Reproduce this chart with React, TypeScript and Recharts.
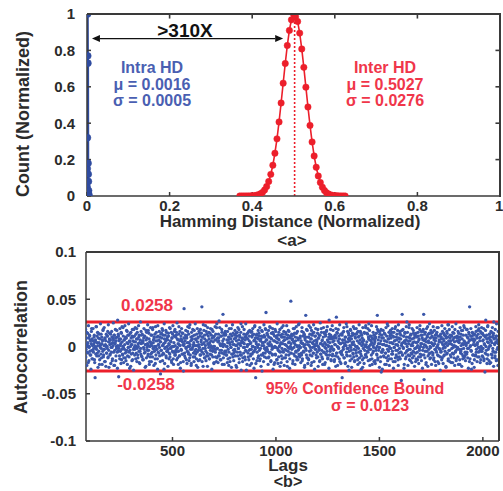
import { ComposedChart, Line, Scatter, XAxis, YAxis, ReferenceLine } from 'recharts';

// Hamming distance histograms (normalized counts)
const intraX = [0, 0.0004, 0.0008, 0.0012, 0.0016, 0.002, 0.0024, 0.0028, 0.0032, 0.0036, 0.004, 0.0044, 0.0048];
const intraY = [0, 0.05, 0.15, 0.32, 1, 0.77, 0.73, 0.18, 0.12, 0.08, 0.03, 0.01, 0];

const interX = [
  0.37, 0.375, 0.38, 0.385, 0.39, 0.395, 0.4, 0.405, 0.41, 0.415, 0.42, 0.425, 0.43, 0.435, 0.44, 0.445,
  0.45, 0.455, 0.46, 0.465, 0.47, 0.475, 0.48, 0.485, 0.49, 0.495, 0.5, 0.505, 0.51, 0.515, 0.52, 0.525,
  0.53, 0.535, 0.54, 0.545, 0.55, 0.555, 0.56, 0.565, 0.57, 0.575, 0.58, 0.585, 0.59, 0.595, 0.6, 0.605,
  0.61, 0.615, 0.62, 0.625,
];
const interY = [
  0, 0, 0, 0.0001, 0.0003, 0.0005, 0.001, 0.002, 0.004, 0.007, 0.012, 0.02, 0.033, 0.052, 0.08, 0.119,
  0.169, 0.235, 0.314, 0.407, 0.511, 0.62, 0.728, 0.827, 0.91, 0.968, 1, 0.985, 0.959, 0.895, 0.808, 0.707,
  0.598, 0.489, 0.388, 0.297, 0.22, 0.158, 0.11, 0.074, 0.048, 0.03, 0.018, 0.011, 0.006, 0.003, 0.002, 0.001,
  0.0005, 0, 0, 0,
];

const hdTicks = [0, 0.2, 0.4, 0.6, 0.8, 1];
const interMean = 0.5027;

// autocorrelation in units of 0.001; even lags from 76, odd lags from 77
const lagStart = 76;
const evenLagMilli = [
  5, -12, 18, -3, 9, -20, 2, 14, -7, 22, -15, 0, 11, -9, 6, -24, 16, -4, 8, -13,
  19, -6, 3, 12, -17, -33, 7, -1, 21, -10, 4, 15, -22, 9, -5, 13, -14, 1, 24, -8,
  -2, 10, -19, 6, 17, -11, -3, 20, -16, 8, 2, -21, 13, -7, 0, 11, -12, 23, -4, 5,
  14, -9, 7, -18, 3, 16, -1, -13, 9, 25, -6, 12, -20, 4, 18, -15, 6, -2, 10, -23,
  1, 13, -32, 8, -10, 19, -5, 3, 15, -14, 21, -8, 0, 11, -17, 7, -3, 22, -12, 9,
  -6, 17, 4, -19, 12, -1, 24, -11, 6, -4, 14, -21, 9, 2, -15, 18, -7, 10, -25, 5,
  11, -3, 20, -13, 0, 8, -16, 15, -9, 3, 22, -5, 12, -18, 7, -2, 16, -10, 4, 13,
  -14, 6, -1, 19, -7, 11, -22, 2, 17, -12, 9, -4, 23, -8, 1, 14, -19, 5, -11, 20,
  3, -16, 12, -6, 18, -2, 7, -20, 10, 0, -13, 21, -9, 15, -3, 6, -24, 11, 2, -7,
  16, -10, 5, -29, 13, -4, 9, 19, -15, 1, 12, -8, 24, -18, 4, -1, 17, -12, 8, -5,
  10, -21, 14, 3, -7, 20, -11, 6, -2, 15, -17, 9, -5, 22, -13, 0, 11, -6, 18, -9,
  -4, 12, -14, 25, -1, 7, -19, 13, 2, -10, 16, -23, 8, -3, 19, -8, 5, 14, -16, 1,
  40, -7, 9, -12, 17, -2, 11, -18, 4, 21, -6, 13, -15, 0, 23, -9, 6, -20, 15, -3,
  8, 18, -11, 2, -16, 12, -5, 24, -8, 7, -13, 1, 19, -22, 10, -4, 16, -1, -14, 11,
  -9, 5, 14, 42, -6, 10, -21, 3, 17, -12, 8, -2, 22, -15, 6, 13, -7, 20, -10, 2,
  15, -13, 4, -8, 19, -1, 12, -24, 9, -5, 16, 0, -18, 11, -3, 21, -11, 7, -16, 24,
  -2, 9, -17, 13, 6, -10, 20, -4, 1, -14, 11, 18, -7, 3, 34, -12, 8, -19, 14, -6,
  12, -5, 22, -9, 0, 16, -13, 7, -20, 10, 4, -16, 13, -1, 19, -8, 5, 23, -11, 2,
  -15, 8, -3, 17, -10, 1, 14, -22, 11, -6, 20, -2, 7, -17, 12, 3, -9, 15, -25, 6,
  9, 21, -12, 4, -7, 18, -1, 10, -14, 24, -5, 13, -19, 2, 8, -11, 16, -4, 11, -20,
  3, -8, 15, -18, 10, 0, 19, -6, 13, -23, 7, 22, -3, -33, 5, 12, -15, 9, -1, 17,
  -10, 14, -4, 20, -13, 6, -21, 11, 1, 16, -9, 4, -16, 23, -2, 10, -7, 18, 36, -12,
  7, -3, 12, -19, 17, -11, 2, 21, -6, 9, -15, 14, 0, -8, 19, -24, 13, -1, 6, -17,
  18, -9, 5, 11, -14, 24, -2, -18, 8, 15, -5, 1, -21, 12, 4, -10, 20, -13, 3, 10,
  -6, 16, -20, 7, 2, -12, 13, -4, 22, -16, 9, -1, 17, -9, 5, -23, 11, 0, 48, -7,
  13, -2, 8, -15, 19, -8, 4, 14, -19, 10, -5, 21, -11, 1, 16, -14, 7, -3, 24, -10,
  -1, 11, -17, 6, -9, 20, -13, 3, 15, -6, 12, -22, 9, 2, 33, -4, 18, -12, 5, -18,
  10, -14, 22, -5, 13, -1, 8, -20, 17, -10, 4, 14, -7, 23, -16, 0, 11, -3, 19, -9,
  -12, 6, 1, 18, -21, 9, -4, 12, -15, 25, -8, 3, 15, -11, 7, -19, 2, 20, -6, 14,
  4, -17, 11, -2, 16, -9, 21, -13, 5, 0, -23, 13, 8, -5, 18, -14, 10, -1, 22, -8,
  17, -4, 9, -16, 2, 12, -10, 19, 31, -7, 14, -20, 6, -1, 11, -13, 23, -6, 3, -18,
  -8, 13, -33, 7, 15, -3, 20, -12, 1, 10, -17, 5, 24, -9, -2, 16, -21, 8, 12, -5,
  6, -15, 18, -1, 11, -22, 4, 14, -7, 21, -11, 2, -16, 13, 9, -4, 19, -10, 0, 15,
  -19, 10, -6, 23, -12, 3, 16, -8, -24, 12, 5, -14, 20, -2, 7, -18, 14, 1, -9, 22,
  2, -11, 14, -5, 19, -15, 8, 0, 17, -20, 11, -3, 6, 22, -13, 9, -7, 15, -1, -16,
  12, 5, -18, 10, -4, 21, -9, 33, -14, 7, 16, -1, -22, 13, 3, -11, 18, -6, 9, -24,
  -3, 17, -10, 2, 14, -19, 6, -7, 20, -12, 1, 24, -15, 8, -5, 15, -20, 11, -2, 13,
  9, -13, 4, 19, -8, 11, -23, 15, -1, 6, -16, 21, -4, 10, -11, 2, 17, -14, 23, -7,
  -11, 8, 16, -6, 12, -36, 3, 34, -9, 18, -2, 11, -19, 5, 14, -13, 7, 21, -5, 0,
  15, -20, 10, -3, 23, -10, 6, -15, 13, 1, -8, 19, -12, 4, 17, -6, 9, -21, 12, -2,
  -7, 14, -1, 20, -14, 5, 11, -18, 8, -4, 22, -11, 3, 16, -9, 12, -23, 7, 18, 34,
  -35, 6, -12, 15, 1, -17, 19, -5, 10, -21, 13, 4, -8, 24, -13, 9, -1, 14, -19, 11,
  3, -9, 21, -14, 7, 17, -3, 12, -20, 9, -6, 15, 0, -16, 20, -10, 5, -2, 11, -25,
  13, -5, 8, 22, -12, 2, -18, 14, 6, -9, 19, -1, 11, -22, 4, 16, -7, 10, -15, 23,
  -4, 18, -16, 9, 3, -11, 12, -2, 21, -17, 7, -8, 14, 1, -20, 10, -5, 24, -13, 6,
  11, -1, 16, -19, 10, 4, -14, 20, -7, 13, -3, -21, 8, 17, -10, 2, 22, -12, 5, -6,
  -15, 12, 3, -8, 18, -2, 9, -23, 15, 6, 42, -13, 1, 19, -5, 11, -18, 7, 14, -9,
  8, -22, 13, 2, -10, 21, -6, 11, -16, 4, 17, -1, 23, -11, 9, -4, 16, -14, 0, 20,
  -5, 14, -11, 7, 19, -13, 2, -27, 10, 28, -8, 12, -18, 5, 22, -3, 9, -15, 13, 1,
  10, -17, 6, 15, -9, 20, -2, 12, -21, 8, 3, -12, 18, -6, 11, 24, -14, 4, -1, 16,
];
const oddLagMilli = [
  -3, 8, -11, 2, 15, -6, 0, 4, -17, 9, -1, 12, -5, 7, -9, 3, 19, -13, 1, -4,
  6, -2, 10, -14, 0, 5, -8, 21, -3, 11, -7, 1, 14, -10, 4, -19, 8, -1, 2, 13,
  -12, 3, 7, -5, 18, -9, 1, -3, 9, -16, 6, 0, -7, 11, -2, 16, -11, 5, -22, 8,
  2, -8, 13, -1, -6, 10, -15, 4, 1, 7, -20, 12, -4, 3, 9, -10, 0, 17, -6, 28,
  -5, 11, -2, 6, -13, 1, 8, -18, 14, -3, 5, -9, 20, -1, -12, 7, 2, -7, 10, -15,
  9, -4, 16, -10, 3, -1, 12, -6, -23, 5, 0, 15, -8, 2, 11, -14, 6, -3, 18, -1,
  -9, 1, 5, 13, -7, 19, -2, 8, -12, 0, 10, -17, 4, -5, 26, -8, 3, 12, -11, 6,
  4, -14, 9, -3, 11, -6, 2, -21, 7, 15, -1, 3, -10, 17, -4, 8, -16, 0, 5, -8,
  12, -7, 1, -11, 20, 4, -2, 9, -5, 13, -18, 6, 0, -3, 10, -13, 22, -6, 2, 7,
  -1, 10, -16, 5, -4, 14, -9, 1, 17, -7, 3, -24, 8, -2, 12, 6, -10, 15, -5, 0,
  7, -3, 11, -13, 2, -8, 19, -1, 5, -15, 9, 0, 13, -6, -19, 4, 16, -9, 1, 10,
  -6, 15, -2, 8, -12, 3, -5, 21, -10, 6, 1, -17, 11, -4, 7, 14, -8, 2, -26, 9,
  3, -10, 6, 12, -1, -14, 9, -5, 16, 0, -8, 4, 20, -12, 2, -3, 10, -18, 7, -2,
  11, 0, -7, 4, 17, -11, 1, 8, -3, -20, 13, -6, 5, 9, -15, 2, -1, 14, -9, 18,
  -4, 7, 2, -16, 10, -2, 23, -8, 4, 12, -12, 1, -5, 16, -10, 6, -21, 3, 11, -1,
  8, -13, 14, -4, 1, 6, -9, 18, -2, -11, 5, 10, -17, 0, 7, -6, 13, -3, 20, -12,
  -2, 5, -10, 9, 27, -7, 3, -14, 11, 1, -4, 15, -19, 6, 0, 12, -8, 2, -5, 16,
  13, -9, 0, 7, -17, 4, -3, 10, -6, 19, -12, 2, 8, -1, -22, 11, 5, -8, 14, -4,
  -7, 2, 12, -5, 9, -20, 6, 1, 15, -10, 3, -2, 18, -13, 10, -6, 1, 24, -9, 4,
  5, -16, 8, -1, 13, 3, -11, 7, -4, 11, -25, 9, 0, 14, -7, 2, -14, 6, 17, -3,
  -10, 4, -3, 16, -8, 12, 0, -13, 6, -5, 21, -1, 9, -18, 3, 13, -6, 1, -12, 8,
  2, 11, -15, 6, -2, 8, -9, 17, -26, 4, 10, -7, 1, 12, -11, 5, 19, -4, 7, -1,
  14, -5, 3, -12, 10, 1, -7, 5, 20, -16, 2, 8, -3, -9, 15, -1, 6, -19, 11, 0,
  -8, 16, -1, 9, -14, 4, 12, -4, -11, 7, 0, 18, -6, 3, -17, 10, -2, 13, -5, 22,
  6, -12, 10, -3, 2, 15, -9, 1, 8, -21, 12, -5, 4, 16, -2, -13, 9, -7, 3, 11,
  -3, 7, -18, 12, 5, -1, 19, -10, 2, 6, -6, 14, -14, 0, 9, -4, 23, -8, 1, -11,
  9, -1, 4, -7, 16, -15, 3, 11, -5, 0, 13, -20, 7, -2, 10, -9, 5, 17, -12, 2,
  -13, 10, 1, 5, -9, 20, -4, 8, -17, 12, -1, 3, -7, 15, 6, -24, 2, 11, -3, 7,
  4, -6, 14, -11, 0, 9, -2, -16, 12, 3, -8, 19, -4, 6, -13, 1, 10, -6, 15, -19,
  -1, 13, -8, 2, 17, -5, 7, -12, 1, 10, 28, -9, 4, -3, 12, -15, 0, 8, -10, 5,
  10, -3, 6, -14, 11, 2, -21, 9, -7, 15, 0, -11, 18, -2, 4, 8, -16, 3, 13, -6,
  -5, 12, -9, 4, -1, 16, -12, 7, 3, -18, 10, 1, -6, 21, -10, 5, -2, 14, -25, 9,
  1, -10, 17, -4, 8, -13, 2, 12, -8, 5, -3, 19, -15, 10, 0, -7, 13, -1, 6, -14,
  16, -2, 4, 11, -17, 7, -5, 14, -10, 1, 9, -22, 3, 6, -12, 15, -4, 0, 20, -8,
  -11, 5, -1, 13, -6, 10, 24, -3, 7, -14, 2, 11, -9, 4, -19, 8, 1, -5, 12, 3,
  7, -15, 9, -2, 14, -8, 0, 18, -12, 3, -4, 10, -1, 16, -16, 6, -27, 12, -6, 2,
  -4, 9, 2, -11, 6, 13, -7, 1, -19, 11, 5, -3, 22, -10, 8, 0, -13, 4, 17, -2,
  12, -8, 15, -5, 3, -16, 10, -1, 6, 19, -12, 2, -9, 7, 13, -4, 1, -20, 9, 5,
  -2, 14, -13, 8, -6, 1, 17, -9, 4, -1, 11, -23, 6, 15, -7, 3, -11, 10, 26, -4,
  6, -9, 3, 20, -14, 9, -3, 12, -7, 2, -17, 8, 1, -5, 14, -10, 5, -2, 11, -16,
  -13, 4, 10, -6, 1, 15, -11, 7, -2, 18, -8, 0, 12, -15, 3, 9, -4, 16, -1, -9,
  2, 13, -5, 8, -19, 5, -1, 11, 21, -10, 6, -3, 14, -7, 0, -12, 17, 4, -6, 10,
  15, -7, 1, -12, 9, 3, -16, 6, -4, 13, -1, 20, -9, 2, 11, -18, 7, -3, 5, -11,
  -6, 10, -14, 4, 16, -2, 8, -10, 0, 12, -5, 3, -21, 9, -8, 14, 1, 23, -13, 6,
  3, -4, 12, -9, 6, -17, 11, 2, -7, 15, -1, 9, -12, 5, 18, -6, 0, -15, 10, -3,
  9, -11, 5, 14, -3, 7, -19, 10, -5, 1, 17, -8, 3, -13, 12, -2, 6, 20, -10, 4,
  -8, 1, 18, -6, 10, -12, 4, -2, 13, -16, 7, 0, 11, -4, -24, 8, 15, -9, 2, 12,
  5, -14, 7, 1, -9, 16, -3, 9, 2, -11, 13, -6, 19, -1, 6, -17, 10, -5, 14, -2,
  -10, 6, -2, 12, -15, 3, 11, -7, 17, 0, -4, 8, -13, 21, -9, 4, -1, 13, -18, 7,
  1, 16, -8, 4, -12, 10, -5, 14, 26, -6, 2, -10, 9, 5, -15, 11, -3, 7, -20, 3,
];
const confBound = 0.0258;
const lagDomain = [82, 2078];
const lagTicks = [500, 1000, 1500, 2000];
const acfTicks = [-0.1, -0.05, 0, 0.05, 0.1];

const intraData = intraX.map((x, i) => ({ x, y: intraY[i] }));
const interData = interX.map((x, i) => ({ x, y: interY[i] }));
const acfData = [
  ...evenLagMilli.map((m, i) => ({ lag: lagStart + 2 * i, v: m / 1000 })),
  ...oddLagMilli.map((m, i) => ({ lag: lagStart + 1 + 2 * i, v: m / 1000 })),
];

const font = '"Liberation Sans", Arial, sans-serif';
const axisColor = '#3a3a3a';
const blue = '#2f4b9f';
const blueText = '#4a5fb2';
const red = '#ec1f2b';
const redText = '#f0364a';
const tickStyle = { fontFamily: font, fontWeight: 700, fontSize: 15, fill: '#2b2b2b' };

function Note({ x, y, color = '#2b2b2b', size = 17, rotate = false, children }: any) {
  return (
    <div
      style={{
        position: 'absolute',
        left: x,
        top: y,
        transform: `translate(-50%, -50%)${rotate ? ' rotate(-90deg)' : ''}`,
        color,
        fontFamily: font,
        fontWeight: 700,
        fontSize: size,
        lineHeight: 0.8,
        whiteSpace: 'nowrap',
      }}
    >
      {children}
    </div>
  );
}

// top and right sides of the axes box
function Frame({ left, top, width, height }: any) {
  return (
    <div
      style={{
        position: 'absolute',
        left,
        top,
        width,
        height,
        boxSizing: 'border-box',
        borderTop: `2px solid ${axisColor}`,
        borderRight: `2px solid ${axisColor}`,
        zIndex: 2,
        pointerEvents: 'none',
      }}
    />
  );
}

function DoubleArrow(props: any) {
  const { x1, y1, x2, y2 } = props;
  const h = 8;
  const w = 3.5;
  return (
    <g>
      <line x1={x1 + h} y1={y1} x2={x2 - h} y2={y2} stroke="#111" strokeWidth={1.2} />
      <path d={`M${x1},${y1} L${x1 + h},${y1 - w} L${x1 + h},${y1 + w} Z`} fill="#111" />
      <path d={`M${x2},${y2} L${x2 - h},${y2 - w} L${x2 - h},${y2 + w} Z`} fill="#111" />
    </g>
  );
}

function TickMark(props: any) {
  const { x1, y1, x2, y2 } = props;
  return <line x1={x1} y1={y1} x2={x2} y2={y2} stroke={axisColor} strokeWidth={1.6} />;
}

function AcfDot(props: any) {
  const { cx, cy } = props;
  if (cx == null || cy == null) return <g />;
  return <circle cx={cx} cy={cy} r={1.65} fill="#3a57aa" />;
}

export default function App() {
  return (
    <div style={{ position: 'absolute', left: 0, top: 0, width: 503, height: 491, background: '#fff' }}>
      <div style={{ position: 'absolute', left: 0, top: 0 }}>
        <ComposedChart width={503} height={230} margin={{ top: 14, right: 3, bottom: 4, left: 47 }}>
          <XAxis
            dataKey="x"
            type="number"
            domain={[0, 1]}
            ticks={hdTicks}
            height={30}
            tick={tickStyle}
            tickSize={-4}
            tickMargin={8}
            stroke={axisColor}
            strokeWidth={1.5}
            allowDataOverflow
          />
          <YAxis
            type="number"
            domain={[0, 1]}
            ticks={hdTicks}
            width={40}
            tick={tickStyle}
            tickSize={-4}
            tickMargin={16}
            stroke={axisColor}
            strokeWidth={1.5}
            allowDataOverflow
          />
          {hdTicks.slice(1, -1).map((t) => (
            <ReferenceLine key={`tt${t}`} segment={[{ x: t, y: 0.995 }, { x: t, y: 0.975 }]} shape={TickMark} />
          ))}
          {hdTicks.slice(1, -1).map((t) => (
            <ReferenceLine key={`rt${t}`} segment={[{ x: 0.998, y: t }, { x: 0.989, y: t }]} shape={TickMark} />
          ))}
          <ReferenceLine
            segment={[{ x: 0.012, y: 0.865 }, { x: 0.475, y: 0.865 }]}
            shape={DoubleArrow}
          />
          <ReferenceLine
            segment={[{ x: interMean, y: 0 }, { x: interMean, y: 0.99 }]}
            stroke={red}
            strokeWidth={1.6}
            strokeDasharray="2 2"
          />
          <Line
            data={interData}
            dataKey="y"
            type="linear"
            stroke={red}
            strokeWidth={1.6}
            dot={{ r: 3.2, fill: red, stroke: red, strokeWidth: 0.5 }}
            isAnimationActive={false}
          />
          <Line
            data={intraData}
            dataKey="y"
            type="linear"
            stroke={blue}
            strokeWidth={2.2}
            dot={{ r: 3.4, fill: blue, stroke: blue, strokeWidth: 0.5 }}
            isAnimationActive={false}
          />
        </ComposedChart>
      </div>
      <Frame left={87} top={13} width={414} height={184} />

      <div style={{ position: 'absolute', left: 0, top: 240 }}>
        <ComposedChart width={503} height={251} margin={{ top: 12, right: 4, bottom: 20, left: 46 }}>
          <XAxis
            dataKey="lag"
            type="number"
            domain={lagDomain}
            ticks={lagTicks}
            height={30}
            tick={tickStyle}
            tickSize={-4}
            tickMargin={8}
            stroke={axisColor}
            strokeWidth={1.5}
            allowDataOverflow
          />
          <YAxis
            dataKey="v"
            type="number"
            domain={[-0.1, 0.1]}
            ticks={acfTicks}
            width={40}
            tick={tickStyle}
            tickSize={-4}
            tickMargin={14}
            stroke={axisColor}
            strokeWidth={1.5}
            allowDataOverflow
          />
          <Scatter data={acfData} dataKey="v" fill="#3a57aa" shape={AcfDot} isAnimationActive={false} />
          <ReferenceLine y={confBound} stroke={red} strokeWidth={3} />
          <ReferenceLine y={-confBound} stroke={red} strokeWidth={3} />
        </ComposedChart>
      </div>
      <Frame left={86} top={251} width={414} height={190} />

      <Note x={23} y={114} size={18} rotate>Count (Normalized)</Note>
      <Note x={290} y={222}>Hamming Distance (Normalized)</Note>
      <Note x={292} y={241}>&lt;a&gt;</Note>
      <Note x={185} y={31} size={19} color="#111">&gt;310X</Note>
      <Note x={152} y={68} size={16} color={blueText}>Intra HD</Note>
      <Note x={152} y={85} size={16} color={blueText}>μ = 0.0016</Note>
      <Note x={152} y={101} size={16} color={blueText}>σ = 0.0005</Note>
      <Note x={385} y={68} size={16} color={redText}>Inter HD</Note>
      <Note x={385} y={85} size={16} color={redText}>μ = 0.5027</Note>
      <Note x={385} y={101} size={16} color={redText}>σ = 0.0276</Note>

      <Note x={21} y={347} size={18} rotate>Autocorrelation</Note>
      <Note x={288} y={466}>Lags</Note>
      <Note x={288} y={482} size={16}>&lt;b&gt;</Note>
      <Note x={147} y={306} color={redText}>0.0258</Note>
      <Note x={146} y={385} color={redText}>-0.0258</Note>
      <Note x={355} y={389} color={redText} size={16}>95% Confidence Bound</Note>
      <Note x={370} y={406} color={redText} size={16}>σ = 0.0123</Note>
    </div>
  );
}
